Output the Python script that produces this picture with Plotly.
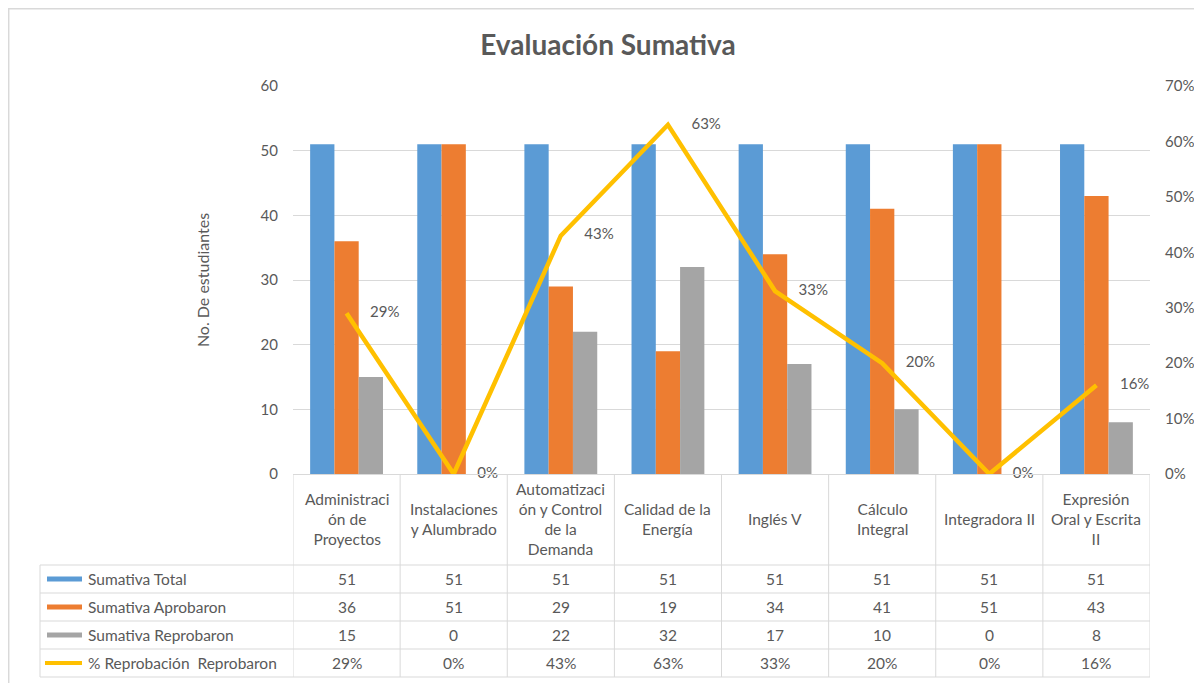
import plotly.graph_objects as go

categories = ["Administración de Proyectos", "Instalaciones y Alumbrado",
              "Automatización y Control de la Demanda", "Calidad de la Energía",
              "Inglés V", "Cálculo Integral", "Integradora II",
              "Expresión Oral y Escrita II"]
category_labels = ["Administraci<br>ón de<br>Proyectos", "Instalaciones<br>y Alumbrado",
                   "Automatizaci<br>ón y Control<br>de la<br>Demanda", "Calidad de la<br>Energía",
                   "Inglés V", "Cálculo<br>Integral", "Integradora II",
                   "Expresión<br>Oral y Escrita<br>II"]
sumativa_total = [51, 51, 51, 51, 51, 51, 51, 51]
sumativa_aprobaron = [36, 51, 29, 19, 34, 41, 51, 43]
sumativa_reprobaron = [15, 0, 22, 32, 17, 10, 0, 8]
pct_reprobacion = [0.29, 0.0, 0.43, 0.63, 0.33, 0.20, 0.0, 0.16]

series_names = ["Sumativa Total", "Sumativa Aprobaron", "Sumativa Reprobaron",
                "% Reprobación  Reprobaron"]
series_colors = ["#5B9BD5", "#ED7D31", "#A5A5A5", "#FFC000"]

OFF = 8  # page body margin
W, H = 1202 - OFF, 683 - OFF
PLOT_L, PLOT_R, PLOT_T, PLOT_B = 293, 1150, 86, 474  # reference pixels
ML, MR = PLOT_L - OFF, W - (PLOT_R - OFF)
MT, MB = PLOT_T - OFF, H - (PLOT_B - OFF)
PW = PLOT_R - PLOT_L
PH = PLOT_B - PLOT_T
TXT = "#595959"
FONT = "Lato"
FS = 15.5


def py(pix):
    return (PLOT_B - pix) / PH


def px(pix):
    return (pix - PLOT_L) / PW


fig = go.Figure()
bar_series = [sumativa_total, sumativa_aprobaron, sumativa_reprobaron]
for name, vals, col in zip(series_names[:3], bar_series, series_colors[:3]):
    fig.add_trace(go.Bar(x=categories, y=vals, name=name, marker_color=col,
                         marker_line_width=0, yaxis="y"))

fig.add_trace(go.Scatter(
    x=categories, y=pct_reprobacion, name=series_names[3], yaxis="y2",
    mode="lines+markers+text", line=dict(color=series_colors[3], width=4.5),
    marker=dict(size=36, color="rgba(0,0,0,0)"),
    text=[f"{round(v * 100)}%" for v in pct_reprobacion],
    textposition="middle right", textfont=dict(color=TXT, size=15, family=FONT),
    cliponaxis=False))

annotations = []
shapes = []

# outer frame
shapes.append(dict(type="rect", xref="paper", yref="paper", x0=px(8.7), x1=px(1230),
                   y0=py(720), y1=py(8.7), line=dict(color="#D9D9D9", width=1.5),
                   layer="below"))

# header row: category labels
for i, lab in enumerate(category_labels):
    annotations.append(dict(x=i, y=py(519), xref="x", yref="paper", text=lab,
                            showarrow=False, xanchor="center", yanchor="middle",
                            font=dict(color=TXT, size=FS, family=FONT)))

row_lines = [565, 593, 621, 649, 677]
table_rows = [sumativa_total, sumativa_aprobaron, sumativa_reprobaron,
              [f"{round(v * 100)}%" for v in pct_reprobacion]]
for r, vals in enumerate(table_rows):
    yc = py((row_lines[r] + row_lines[r + 1]) / 2)
    for i, v in enumerate(vals):
        annotations.append(dict(x=i, y=yc, xref="x", yref="paper", text=str(v),
                                showarrow=False, xanchor="center", yanchor="middle",
                                font=dict(color=TXT, size=FS, family=FONT)))
    annotations.append(dict(x=px(86), y=yc, xref="paper", yref="paper",
                            text=series_names[r], showarrow=False, xanchor="left",
                            yanchor="middle", font=dict(color=TXT, size=FS, family=FONT)))
    x0 = 47 if r < 3 else 45
    shapes.append(dict(type="line", xref="paper", yref="paper", x0=px(x0), x1=px(82),
                       y0=yc, y1=yc, line=dict(color=series_colors[r], width=5 if r < 3 else 4)))

grid_col = "#D9D9D9"
# horizontal table lines
for yl in row_lines:
    shapes.append(dict(type="line", xref="paper", yref="paper", x0=px(40), x1=1.0,
                       y0=py(yl), y1=py(yl), line=dict(color=grid_col, width=1)))
# vertical table lines
for k in range(len(categories) + 1):
    shapes.append(dict(type="line", xref="x", yref="paper", x0=k - 0.5, x1=k - 0.5,
                       y0=0, y1=py(677), line=dict(color=grid_col, width=1)))
shapes.append(dict(type="line", xref="paper", yref="paper", x0=px(40), x1=px(40),
                   y0=py(565), y1=py(677), line=dict(color=grid_col, width=1)))

fig.update_layout(
    width=W, height=H,
    margin=dict(l=ML, r=MR, t=MT, b=MB, autoexpand=False),
    paper_bgcolor="white", plot_bgcolor="white",
    showlegend=False,
    barmode="group", bargap=0.32, bargroupgap=0,
    font=dict(family=FONT, color=TXT, size=FS),
    title=dict(text="<b>Evaluación Sumativa</b>", x=(608 - OFF) / W, xanchor="center",
               y=1 - (45 - OFF) / H, yanchor="middle",
               font=dict(size=28, color=TXT, family=FONT)),
    xaxis=dict(showticklabels=False, showgrid=False, showline=True, automargin=False,
               linecolor=grid_col, range=[-0.5, len(categories) - 0.5]),
    yaxis=dict(range=[0, 60], dtick=10, showgrid=True, gridcolor=grid_col,
               zeroline=False, showline=False, ticklabelstandoff=14, automargin=False,
               tickfont=dict(size=15, color=TXT),
               title=dict(text="No. De estudiantes", standoff=46,
                          font=dict(size=16, color=TXT))),
    yaxis2=dict(range=[0, 0.7], dtick=0.1, tickformat=".0%", overlaying="y",
                side="right", showgrid=False, zeroline=False, showline=False,
                automargin=False,
                ticklabelstandoff=14, tickfont=dict(size=15, color=TXT)),
    shapes=shapes, annotations=annotations,
)

fig.write_html("out.html")
